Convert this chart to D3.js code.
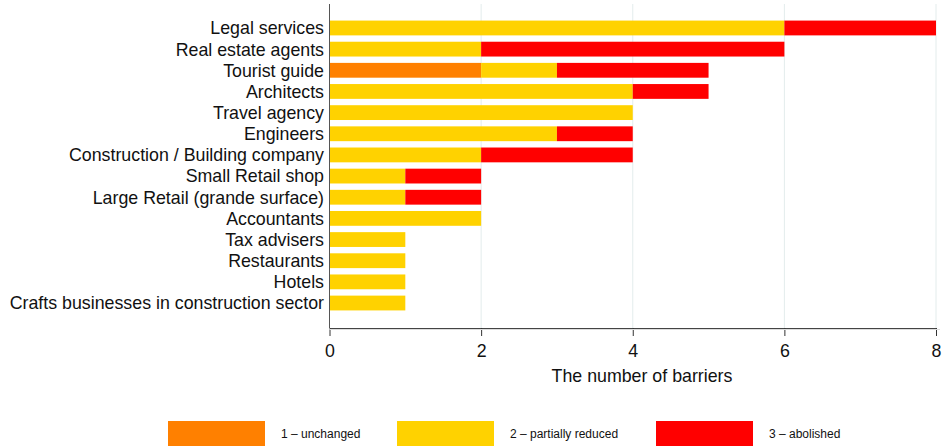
<!DOCTYPE html>
<html><head><meta charset="utf-8">
<script src="https://cdn.jsdelivr.net/npm/d3@7"></script>
<style>body{margin:0;background:#fff}text{font-family:"Liberation Sans",Arial,sans-serif}</style>
</head><body><svg id="c" width="948" height="446"></svg>
<script>
const categories = ["Legal services","Real estate agents","Tourist guide","Architects","Travel agency","Engineers","Construction / Building company","Small Retail shop","Large Retail (grande surface)","Accountants","Tax advisers","Restaurants","Hotels","Crafts businesses in construction sector"];
const unchanged = [0,0,2,0,0,0,0,0,0,0,0,0,0,0];
const partiallyReduced = [6,2,1,4,4,3,2,1,1,2,1,1,1,1];
const abolished = [2,4,2,1,0,1,2,1,1,0,0,0,0,0];
const seriesNames = ["1 \u2013 unchanged","2 \u2013 partially reduced","3 \u2013 abolished"];
const colors = ["#FF8000","#FFD200","#FF0000"];
const xTicks = [0,2,4,6,8];

const svg = d3.select("#c");
const x = d3.scaleLinear().domain([0,8]).range([329.5,936]);
const y = d3.scaleBand().domain(categories).range([17.4,313.6]).paddingInner(0.3).paddingOuter(0.15);
const plotTop = 4, plotBottom = 328;
const fs = 17.8;

// gridlines
svg.append("g").selectAll("line").data(xTicks.slice(1)).join("line")
  .attr("x1",d=>x(d)).attr("x2",d=>x(d)).attr("y1",plotTop).attr("y2",plotBottom)
  .attr("stroke","#e3ecec").attr("stroke-width",1);

const stackData = categories.map((c,i)=>({cat:c, s0:unchanged[i], s1:partiallyReduced[i], s2:abolished[i]}));
const stack = d3.stack().keys(["s0","s1","s2"])(stackData);
svg.append("g").selectAll("g").data(stack).join("g").attr("fill",(d,i)=>colors[i])
  .selectAll("rect").data(d=>d.filter(v=>v[1]>v[0])).join("rect")
  .attr("x",d=>x(d[0])).attr("width",d=>x(d[1])-x(d[0]))
  .attr("y",d=>y(d.data.cat)).attr("height",y.bandwidth());

// bottom axis
const xa = svg.append("g").attr("transform",`translate(0,${plotBottom})`)
  .call(d3.axisBottom(x).tickValues(xTicks).tickSize(8).tickPadding(8).tickSizeOuter(0));
xa.select(".domain").attr("stroke","#444");
xa.selectAll(".tick line").attr("stroke","#333");
xa.selectAll("text").attr("font-size",fs).attr("fill","#111").attr("font-family","Liberation Sans, Arial, sans-serif");
svg.append("line").attr("x1",x(0)).attr("x2",940).attr("y1",plotBottom+1.5).attr("y2",plotBottom+1.5).attr("stroke","#ddd");

// left axis line
svg.append("line").attr("x1",x(0)).attr("x2",x(0)).attr("y1",plotTop).attr("y2",plotBottom).attr("stroke","#555");

// category labels
svg.append("g").selectAll("text").data(categories).join("text")
  .attr("x",324).attr("y",d=>y(d)+y.bandwidth()/2).attr("dy","0.36em")
  .attr("text-anchor","end").attr("font-size",fs).attr("fill","#111").text(d=>d);

// axis title
svg.append("text").attr("x",642).attr("y",382).attr("text-anchor","middle")
  .attr("font-size",fs).attr("fill","#111").text("The number of barriers");

// legend
const legX = [168,397,656];
const lg = svg.append("g").selectAll("g").data(seriesNames).join("g")
  .attr("transform",(d,i)=>`translate(${legX[i]},421)`);
lg.append("rect").attr("width",97).attr("height",25).attr("fill",(d,i)=>colors[i]);
lg.append("text").attr("x",113).attr("y",13).attr("dy","0.36em").attr("font-size",12).attr("fill","#111").text(d=>d);
</script></body></html>
